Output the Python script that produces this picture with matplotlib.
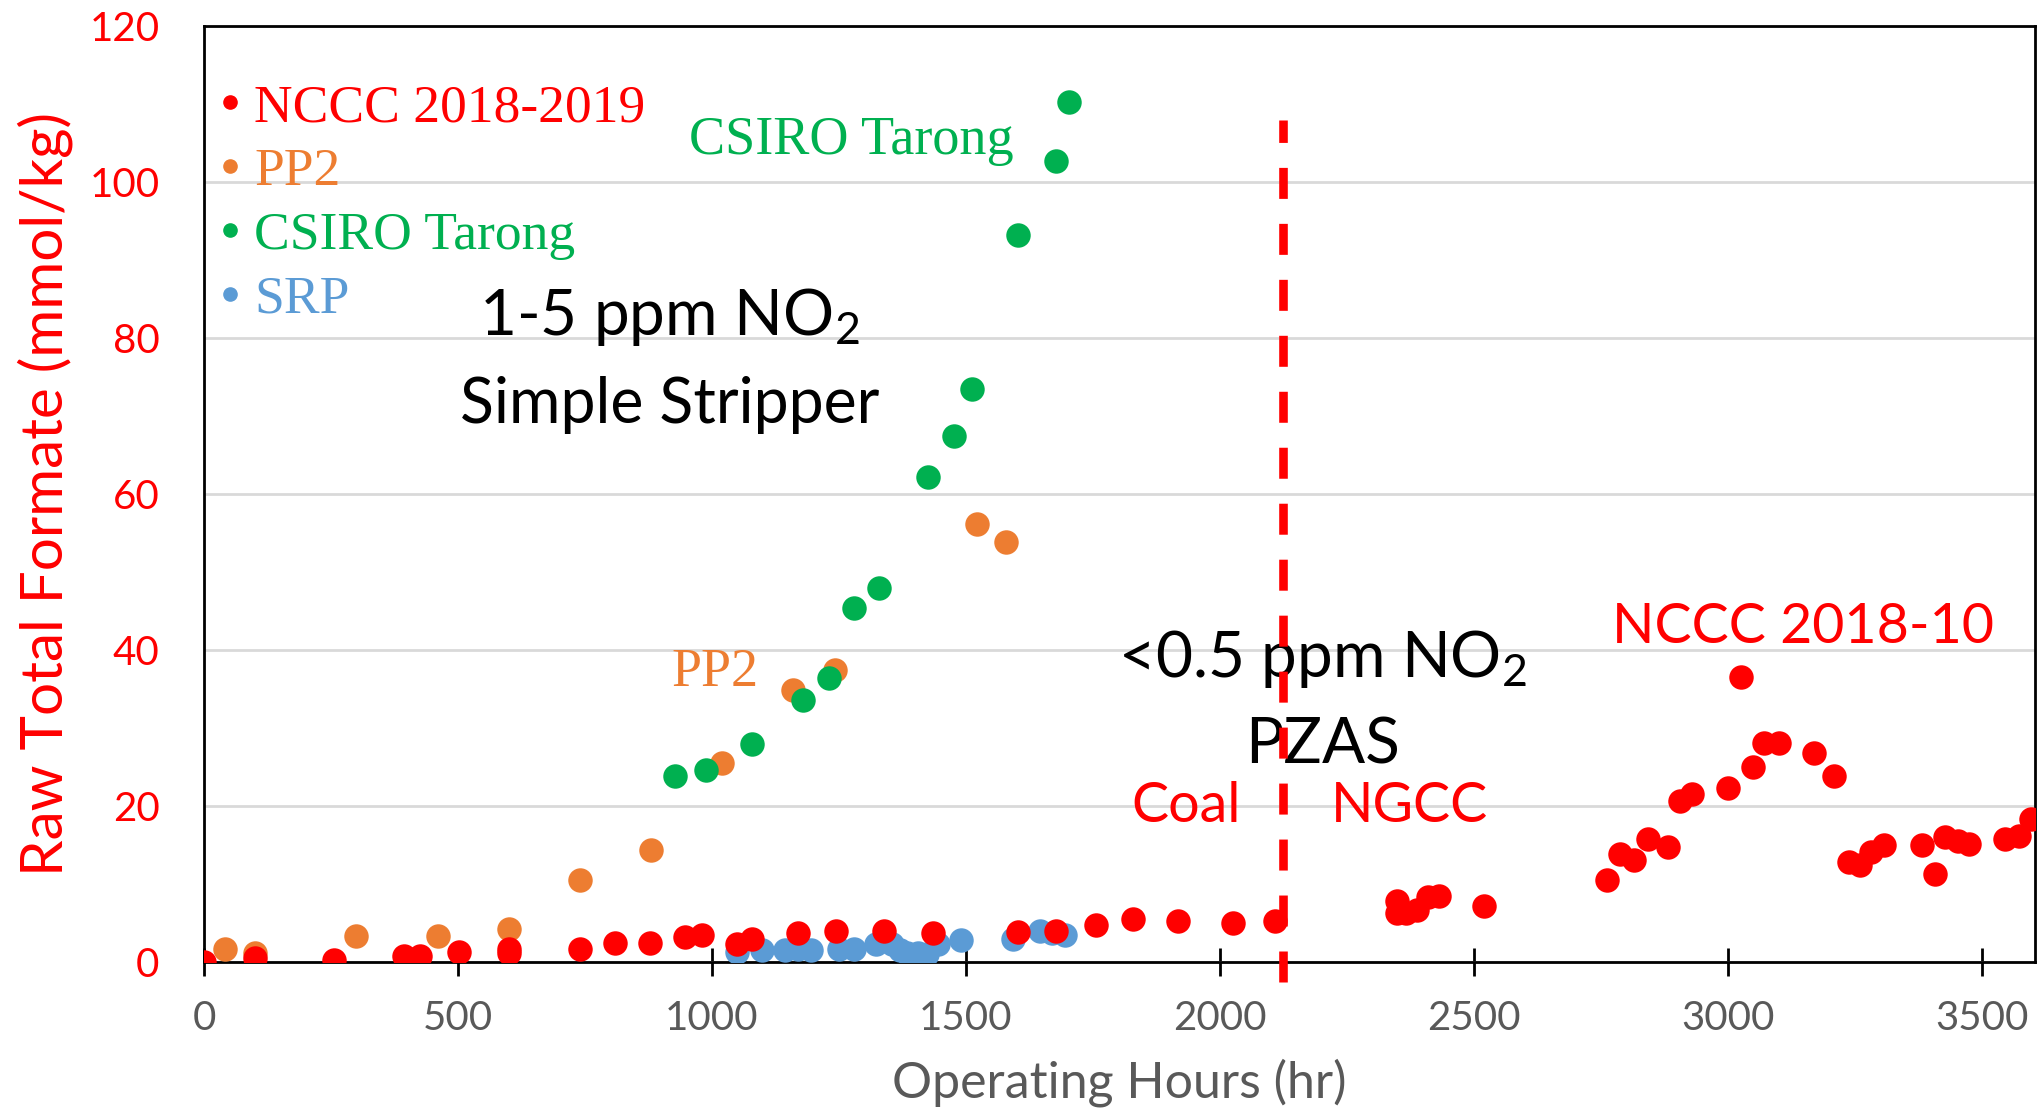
import matplotlib
matplotlib.use('Agg')
import matplotlib.pyplot as plt
from matplotlib.lines import Line2D

plt.rcParams['font.family'] = ['Lato', 'DejaVu Sans']
plt.rcParams['mathtext.fontset'] = 'custom'
plt.rcParams['mathtext.rm'] = 'Lato'
plt.rcParams['mathtext.it'] = 'Lato'

# NCCC 2018-2019 (red)
nccc_hours = [0, 100, 256, 394, 425, 502, 600, 600, 740, 809, 878, 947, 980, 1050, 1078,
              1170, 1244, 1339, 1436, 1602, 1677, 1756, 1830, 1917, 2025, 2109,
              2348, 2348, 2366, 2389, 2409, 2432, 2521,
              2762, 2788, 2816, 2844, 2883, 2906, 2929, 3000, 3026, 3049, 3072, 3100,
              3169, 3210, 3238, 3261, 3282, 3307, 3382, 3408, 3428, 3453, 3476,
              3546, 3574, 3597]
nccc_formate = [0.0, 0.5, 0.3, 0.8, 0.8, 1.3, 1.7, 1.2, 1.7, 2.5, 2.5, 3.2, 3.5, 2.3, 3.0,
                3.7, 4.0, 4.0, 3.7, 3.8, 4.0, 4.7, 5.5, 5.2, 5.0, 5.2,
                7.8, 6.3, 6.3, 6.7, 8.3, 8.5, 7.2,
                10.5, 13.8, 13.1, 15.8, 14.8, 20.6, 21.5, 22.3, 36.6, 25.0, 28.1, 28.1,
                26.8, 23.8, 12.8, 12.5, 14.1, 15.0, 15.0, 11.3, 16.0, 15.5, 15.1,
                15.8, 16.1, 18.3]

# PP2 (orange)
pp2_hours = [41, 100, 300, 461, 600, 740, 881, 1019, 1160, 1242, 1521, 1580]
pp2_formate = [1.7, 1.2, 3.3, 3.3, 4.2, 10.5, 14.3, 25.5, 34.9, 37.4, 56.2, 53.9]

# CSIRO Tarong (green)
csiro_hours = [927, 988, 1078, 1180, 1231, 1280, 1329, 1426, 1477, 1513, 1603, 1677, 1703]
csiro_formate = [23.8, 24.6, 28.0, 33.6, 36.4, 45.4, 47.9, 62.2, 67.4, 73.4, 93.2, 102.7, 110.2]

# SRP (blue)
srp_hours = [1050, 1098, 1144, 1170, 1196, 1250, 1280, 1324, 1354, 1370, 1385, 1405, 1423,
             1446, 1490, 1592, 1646, 1669, 1695]
srp_formate = [1.3, 1.5, 1.5, 1.7, 1.5, 1.7, 1.7, 2.3, 2.3, 1.5, 1.2, 1.2, 1.0,
               2.3, 2.8, 3.0, 4.0, 3.7, 3.5]

series_names = ['NCCC 2018-2019', 'PP2', 'CSIRO Tarong', 'SRP']
series_colors = ['#FF0000', '#ED7D31', '#00B050', '#5B9BD5']
x_ticks = [0, 500, 1000, 1500, 2000, 2500, 3000, 3500]
y_ticks = [0, 20, 40, 60, 80, 100, 120]
switch_hour = 2125

W, H = 2038, 1112
fig = plt.figure(figsize=(W / 100, H / 100), dpi=100)
ax = fig.add_axes([204 / W, 1 - 962 / H, (2035 - 204) / W, (962 - 26) / H])

dot = 310
ax.scatter(srp_hours, srp_formate, s=dot, color=series_colors[3], zorder=3, linewidths=0)
ax.scatter(pp2_hours, pp2_formate, s=dot, color=series_colors[1], zorder=3, linewidths=0)
ax.scatter(csiro_hours, csiro_formate, s=dot, color=series_colors[2], zorder=4, linewidths=0)
ax.scatter(nccc_hours, nccc_formate, s=dot, color=series_colors[0], zorder=5, linewidths=0)

ax.plot([switch_hour, switch_hour], [-2.5, 108], color='#FF0000', lw=6.2,
        dashes=(3.6, 2.9), clip_on=False, zorder=6, solid_capstyle='butt')

ax.set_xlim(0, 3605)
ax.set_ylim(0, 120)
ax.set_xticks(x_ticks)
ax.set_yticks(y_ticks)
ax.grid(axis='y', color='#D9D9D9', lw=2)
ax.set_axisbelow(True)
for s in ax.spines.values():
    s.set_linewidth(2)
    s.set_color('black')
ax.tick_params(axis='x', direction='inout', length=20, width=2, labelsize=29,
               labelcolor='#595959', pad=17)
ax.tick_params(axis='y', length=0, labelsize=29, labelcolor='#FF0000', pad=32)

ax.set_xlabel('Operating Hours (hr)', fontsize=36, color='#595959', labelpad=16)
ax.set_ylabel('Raw Total Formate (mmol/kg)', fontsize=42, color='#FF0000')
ax.yaxis.set_label_coords((45 - 204) / 1831, 0.5)
ax.yaxis.label.set_va('center')

handles = [Line2D([], [], ls='none', marker='o', ms=9.5, color=c) for c in series_colors]
leg = ax.legend(handles, series_names, loc='upper left', bbox_to_anchor=(-0.0092, 0.967),
                frameon=False, borderpad=0, handletextpad=0.15, handlelength=0.6,
                labelspacing=0.29, prop={'family': 'Liberation Serif', 'size': 38.5})
for t, c in zip(leg.get_texts(), series_colors):
    t.set_color(c)

ax.text(917, 82.7, '1-5 ppm NO$_2$', fontsize=46, ha='center', va='center')
ax.text(917, 71.4, 'Simple Stripper', fontsize=45, ha='center', va='center')
ax.text(2202, 38.8, '<0.5 ppm NO$_2$', fontsize=46, ha='center', va='center')
ax.text(2202, 27.8, 'PZAS', fontsize=46, ha='center', va='center')
ax.text(1933, 20, 'Coal', fontsize=40, ha='center', va='center', color='#FF0000')
ax.text(2373, 20, 'NGCC', fontsize=40, ha='center', va='center', color='#FF0000')
ax.text(3149, 42.9, 'NCCC 2018-10', fontsize=40, ha='center', va='center', color='#FF0000')
ax.text(1275, 105.3, 'CSIRO Tarong', fontsize=39, ha='center', va='center',
        color='#00B050', family='Liberation Serif')
ax.text(1006, 37.1, 'PP2', fontsize=39, ha='center', va='center',
        color='#ED7D31', family='Liberation Serif')

fig.savefig('out.png', dpi=100)
